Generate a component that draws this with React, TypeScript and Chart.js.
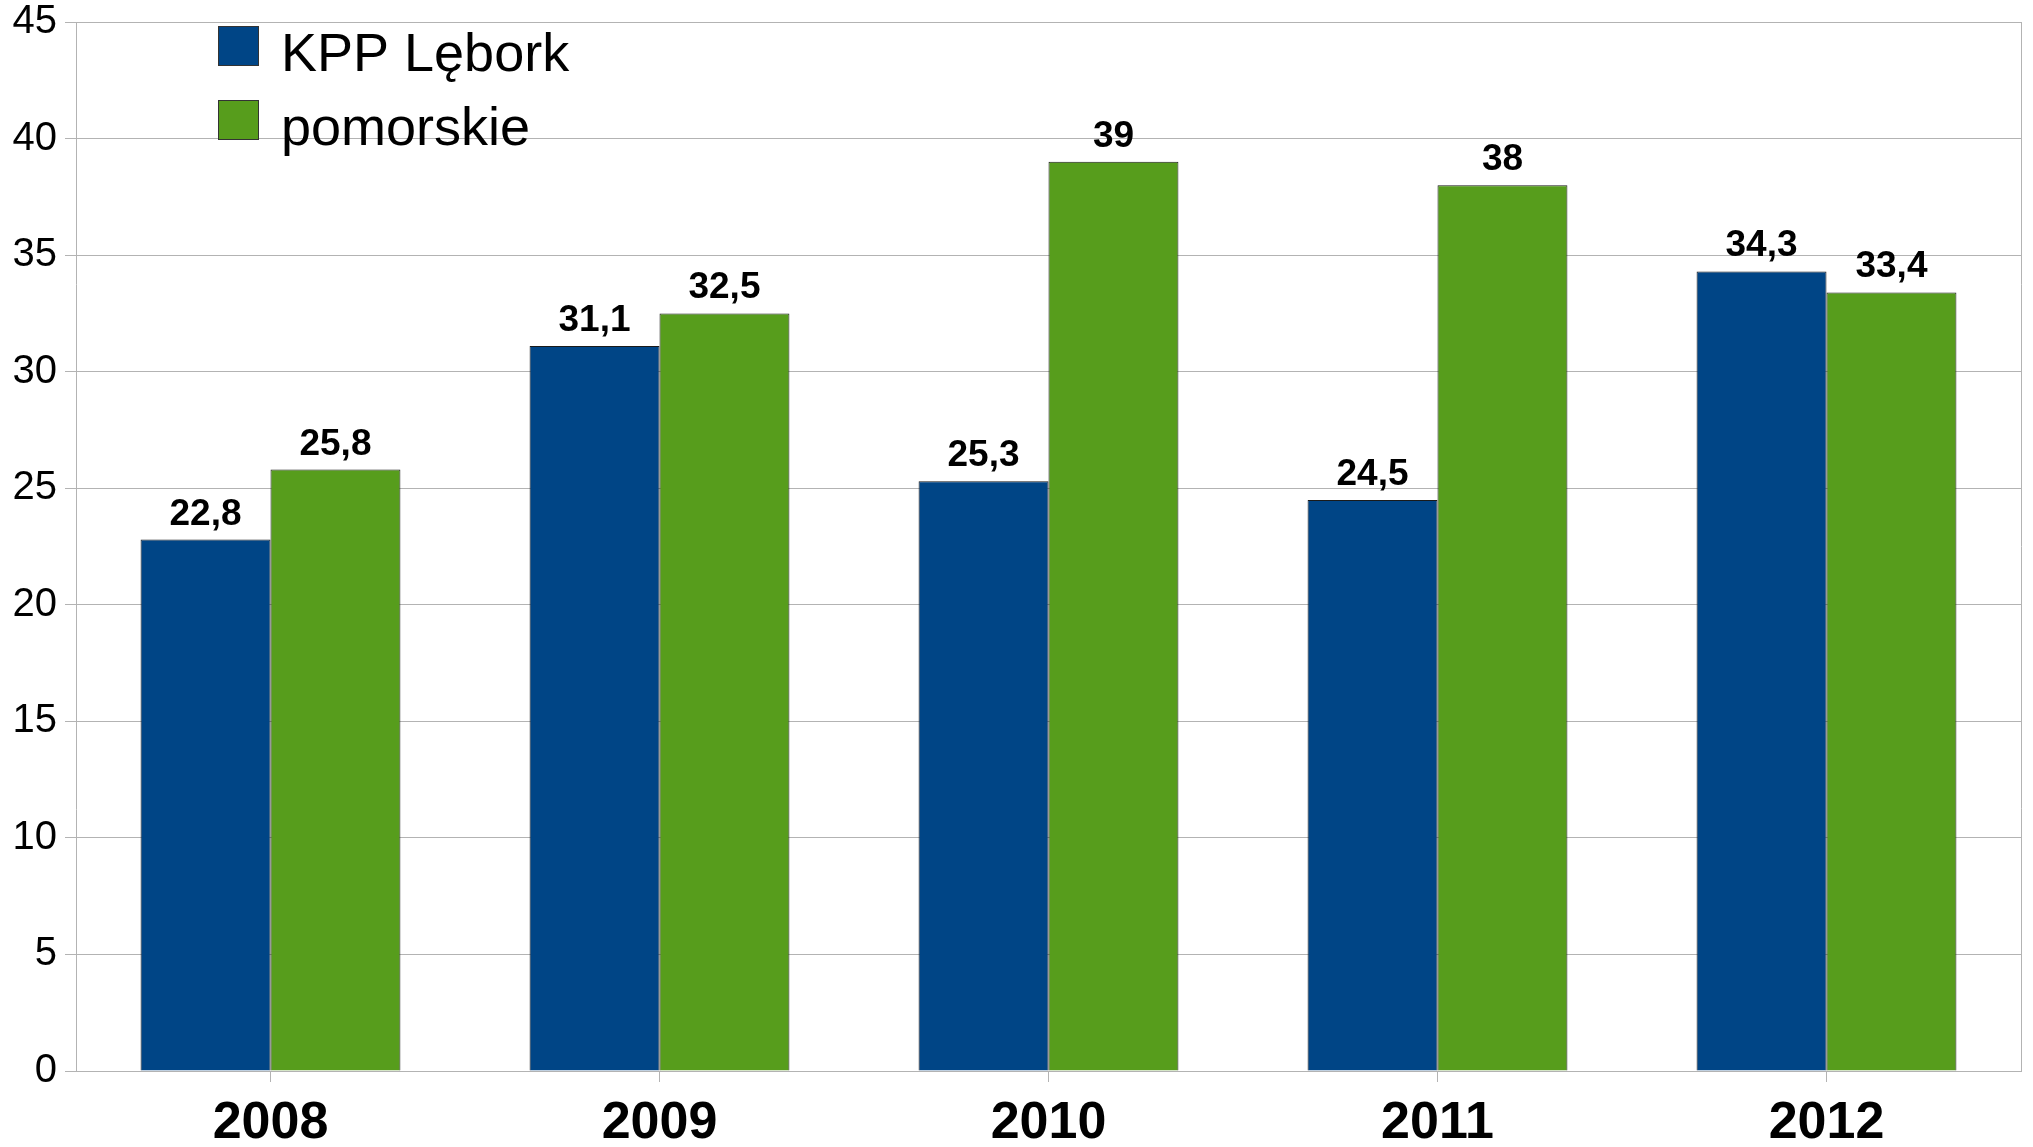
import React, { useEffect, useRef } from "react";
import { Chart, registerables } from "chart.js";

Chart.register(...registerables);

const categories = ["2008", "2009", "2010", "2011", "2012"];
const kppLebork = [22.8, 31.1, 25.3, 24.5, 34.3];
const pomorskie = [25.8, 32.5, 39, 38, 33.4];
const seriesNames = ["KPP Lębork", "pomorskie"];
const seriesColors = ["#004586", "#579d1c"];
const yMin = 0;
const yMax = 45;
const yStep = 5;

const FONT = "'Liberation Sans', Arial, sans-serif";
const GRID = "#b3b3b3";

const valueLabels = {
  id: "valueLabels",
  afterDatasetsDraw(chart: any) {
    const ctx = chart.ctx;
    ctx.save();
    ctx.font = `bold 37px ${FONT}`;
    ctx.fillStyle = "#000";
    ctx.textAlign = "center";
    ctx.textBaseline = "alphabetic";
    chart.data.datasets.forEach((ds: any, di: number) => {
      const meta = chart.getDatasetMeta(di);
      meta.data.forEach((el: any, i: number) => {
        const v = ds.data[i];
        const txt = String(v).replace(".", ",");
        ctx.fillText(txt, el.x, el.y - 15);
      });
    });
    ctx.restore();
  },
};

const frameAndLegend = {
  id: "frameAndLegend",
  afterDraw(chart: any) {
    const ctx = chart.ctx;
    const a = chart.chartArea;
    ctx.save();
    // right frame line
    ctx.strokeStyle = GRID;
    ctx.lineWidth = 1;
    ctx.beginPath();
    ctx.moveTo(Math.round(a.right) + 0.5, a.top);
    ctx.lineTo(Math.round(a.right) + 0.5, a.bottom);
    ctx.stroke();
    // legend
    chart.data.datasets.forEach((ds: any, i: number) => {
      const bx = Math.round(a.left + 142);
      const by = Math.round(a.top + 4 + i * 74);
      ctx.fillStyle = ds.backgroundColor;
      ctx.fillRect(bx, by, 40, 39);
      ctx.strokeStyle = "#333";
      ctx.lineWidth = 1;
      ctx.strokeRect(bx + 0.5, by + 0.5, 40, 39);
      ctx.fillStyle = "#000";
      ctx.font = `54px ${FONT}`;
      ctx.textAlign = "left";
      ctx.textBaseline = "alphabetic";
      ctx.fillText(ds.label, bx + 63, by + 45);
    });
    ctx.restore();
  },
};

export default function App() {
  const ref = useRef<HTMLCanvasElement | null>(null);

  useEffect(() => {
    document.body.style.margin = "0";
    const canvas = ref.current!;
    const chart = new Chart(canvas, {
      type: "bar",
      data: {
        labels: categories,
        datasets: [
          {
            label: seriesNames[0],
            data: kppLebork,
            backgroundColor: seriesColors[0],
            borderColor: "#1a1a1a",
            borderWidth: 1,
          },
          {
            label: seriesNames[1],
            data: pomorskie,
            backgroundColor: seriesColors[1],
            borderColor: "#1a1a1a",
            borderWidth: 1,
          },
        ],
      },
      options: {
        responsive: false,
        animation: false,
        devicePixelRatio: 1,
        layout: { padding: { top: 22, right: 12, left: 0, bottom: 0 } },
        datasets: {
          bar: { categoryPercentage: 0.668, barPercentage: 1.0 },
        },
        plugins: {
          legend: { display: false },
          tooltip: { enabled: false },
        },
        scales: {
          x: {
            grid: {
              display: true,
              drawOnChartArea: false,
              offset: false,
              tickLength: 11,
              color: GRID,
            },
            border: { display: true, color: GRID },
            ticks: {
              color: "#000",
              font: { family: FONT, size: 52, weight: "bold", lineHeight: 1.2 },
              padding: 10,
              maxRotation: 0,
            },
            afterFit(scale: any) {
              scale.height = 76;
              scale.paddingLeft = 0;
              scale.paddingRight = 0;
              scale.paddingTop = 0;
              scale.paddingBottom = 0;
            },
          },
          y: {
            min: yMin,
            max: yMax,
            ticks: {
              stepSize: yStep,
              color: "#000",
              font: { family: FONT, size: 40, lineHeight: 1.1 },
              padding: 8,
            },
            grid: { color: GRID, tickLength: 11, tickColor: GRID },
            border: { display: true, color: GRID },
            afterFit(scale: any) {
              scale.width = 76;
              scale.paddingTop = 0;
              scale.paddingBottom = 0;
              scale.paddingLeft = 0;
              scale.paddingRight = 0;
            },
          },
        },
      },
      plugins: [valueLabels, frameAndLegend],
    });
    return () => chart.destroy();
  }, []);

  return (
    <div style={{ position: "absolute", left: 0, top: 0, width: 2033, height: 1147, background: "#fff" }}>
      <canvas ref={ref} width={2033} height={1147} style={{ display: "block" }} />
    </div>
  );
}
